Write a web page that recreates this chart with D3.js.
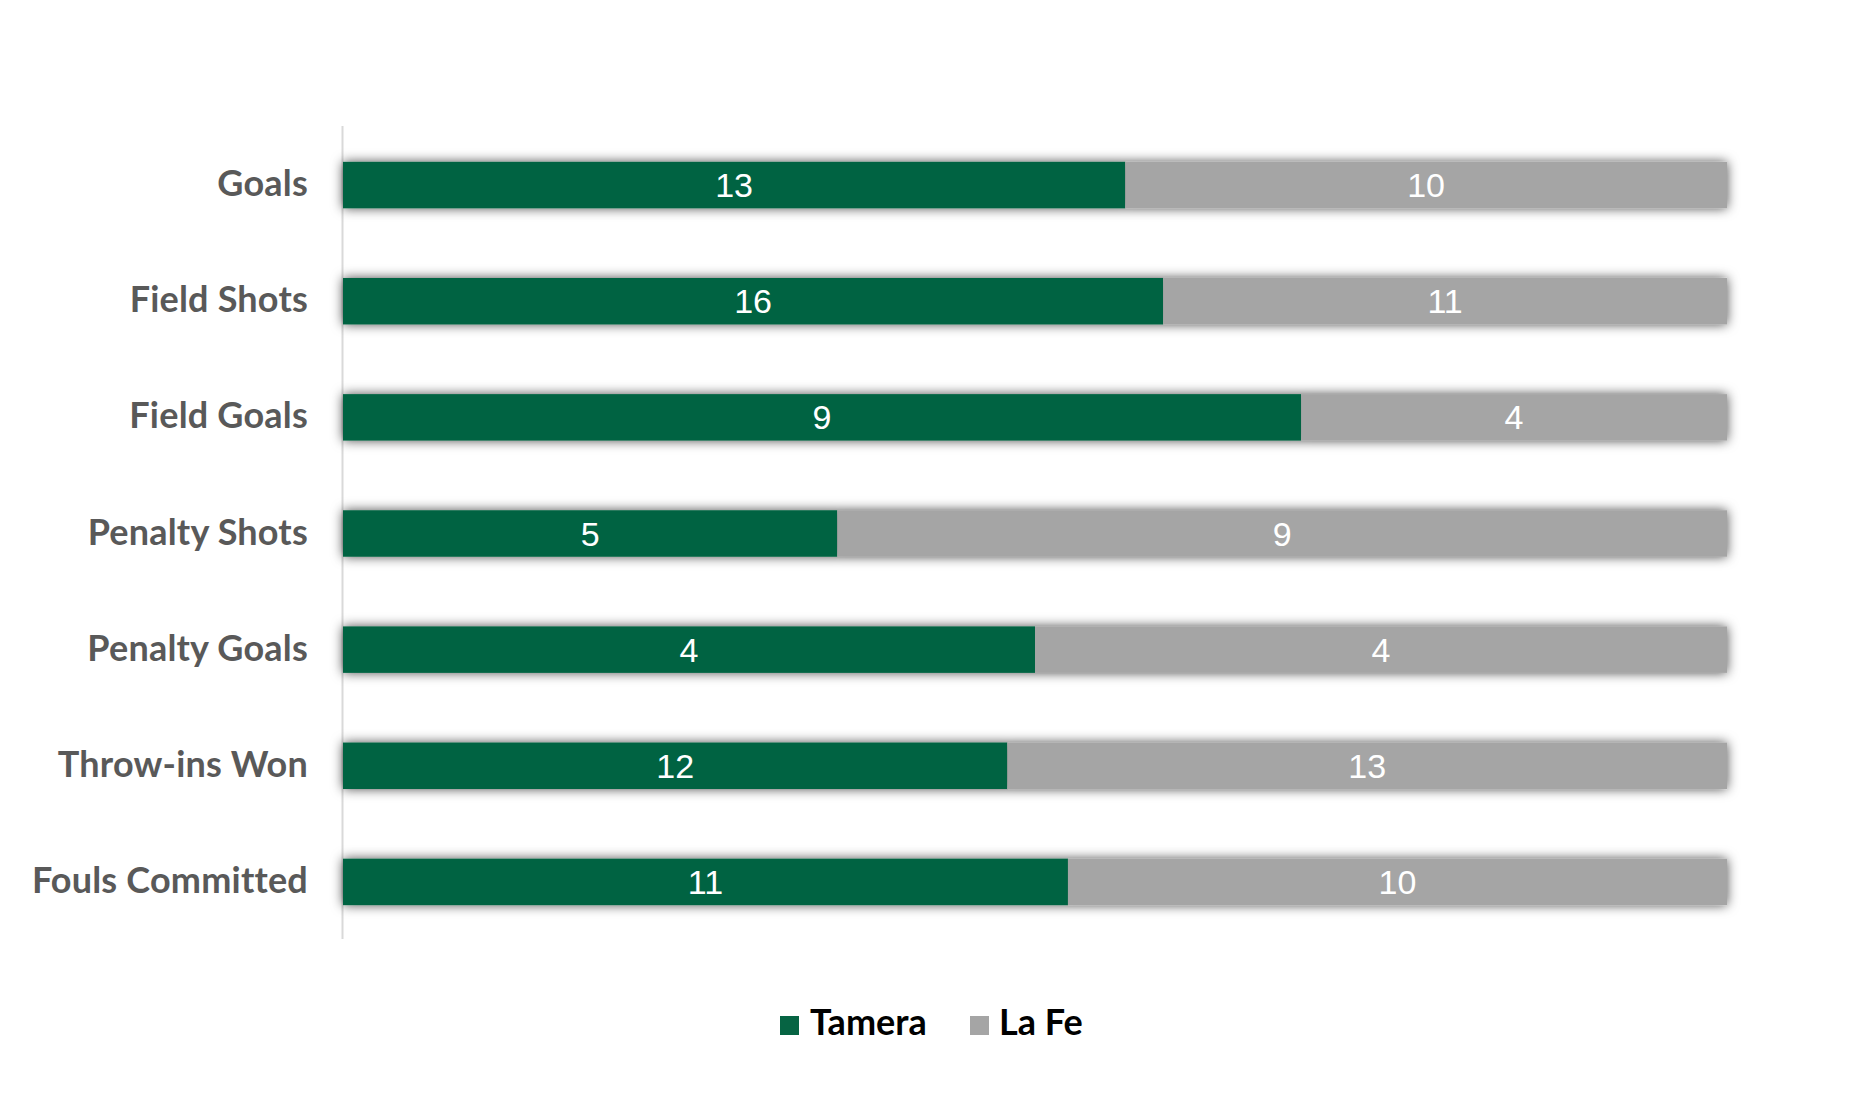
<!DOCTYPE html>
<html><head><meta charset="utf-8">
<script src="https://cdn.jsdelivr.net/npm/d3@7"></script>
<style>html,body{margin:0;padding:0;background:#fff;}svg{display:block;}</style>
</head><body>
<script>
const categories = ["Goals","Field Shots","Field Goals","Penalty Shots","Penalty Goals","Throw-ins Won","Fouls Committed"];
const seriesNames = ["Tamera","La Fe"];
const tamera = [13,16,9,5,4,12,11];
const laFe = [10,11,4,9,4,13,10];
const colors = ["#066443","#A5A5A5"];

const W = 1851, H = 1095;
const svg = d3.select("body").append("svg").attr("width",W).attr("height",H);
const defs = svg.append("defs");
const f = defs.append("filter").attr("id","sh").attr("x","-5%").attr("y","-60%").attr("width","110%").attr("height","220%");
f.append("feDropShadow").attr("dx",0).attr("dy",0).attr("stdDeviation",6).attr("flood-color","#000").attr("flood-opacity",0.7);

const table = categories.map((c,i)=>({cat:c, Tamera:tamera[i], "La Fe":laFe[i]}));
const stacked = d3.stack().keys(seriesNames).offset(d3.stackOffsetExpand)(table);

const x = d3.scaleLinear().domain([0,1]).range([343,1727]);
const y = d3.scaleBand().domain(categories).range([127,940]).paddingInner(0.6).paddingOuter(0.3);

// axis line
svg.append("line").attr("x1",342.5).attr("x2",342.5).attr("y1",126).attr("y2",939)
  .attr("stroke","#d9d9d9").attr("stroke-width",2);

const g = svg.append("g").attr("filter","url(#sh)");
stacked.forEach((s,si)=>{
  g.selectAll(null).data(s).enter().append("rect")
    .attr("x",d=>x(d[0])).attr("width",d=>x(d[1])-x(d[0]))
    .attr("y",d=>y(d.data.cat)).attr("height",y.bandwidth())
    .attr("fill",colors[si]);
});
stacked.forEach((s,si)=>{
  svg.selectAll(null).data(s).enter().append("text")
    .attr("x",d=>(x(d[0])+x(d[1]))/2)
    .attr("y",d=>y(d.data.cat)+y.bandwidth()/2+12)
    .attr("text-anchor","middle")
    .attr("font-family","Liberation Sans, Arial, sans-serif")
    .attr("font-size",34).attr("fill","#fff")
    .text(d=>d.data[s.key]);
});

// category labels
svg.selectAll(null).data(categories).enter().append("text")
  .attr("x",308).attr("y",d=>y(d)+y.bandwidth()/2+11)
  .attr("text-anchor","end")
  .attr("font-family","Lato, sans-serif").attr("font-weight",700)
  .attr("font-size",36).attr("fill","#595959")
  .attr("letter-spacing",0.2)
  .text(d=>d);

// legend
const leg = [{n:"Tamera",sx:780,tx:810},{n:"La Fe",sx:970,tx:999}];
leg.forEach((l,i)=>{
  svg.append("rect").attr("x",l.sx).attr("y",1016).attr("width",19).attr("height",19).attr("fill",colors[i]);
  svg.append("text").attr("x",l.tx).attr("y",1035)
    .attr("font-family","Lato, sans-serif").attr("font-weight",700)
    .attr("font-size",36).attr("fill","#000").text(l.n);
});
</script>
</body></html>
